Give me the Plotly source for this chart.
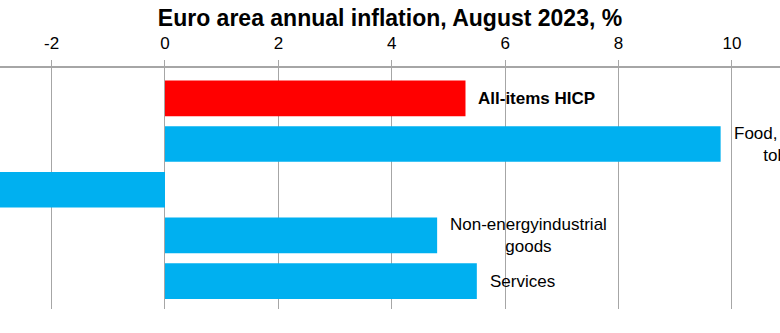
import plotly.graph_objects as go

# HICP components, annual rate of change, August 2023 (flash), %
categories = ["All-items HICP", "Food, alcohol & tobacco", "Energy",
              "Non-energy industrial goods", "Services"]
values = [5.3, 9.8, -3.2, 4.8, 5.5]
bar_colors = ["#FF0000", "#00B0F0", "#00B0F0", "#00B0F0", "#00B0F0"]
label_texts = ["<b>All-items HICP</b>", "Food, alcohol &amp;<br>tobacco", "",
               "Non-energyindustrial<br>goods", "Services"]
tick_values = [-2, 0, 2, 4, 6, 8, 10]

GRID = "#a6a6a6"
FONT = "Liberation Sans, Arial, sans-serif"

fig = go.Figure(
    go.Bar(
        x=values,
        y=categories,
        orientation="h",
        marker=dict(color=bar_colors, line=dict(width=0)),
        width=0.78,
        hoverinfo="x+y",
    )
)

annotations = []
for cat, val, txt in zip(categories, values, label_texts):
    if not txt:
        continue
    annotations.append(dict(
        x=val, y=cat, xref="x", yref="y",
        text=txt, showarrow=False,
        xanchor="left", yanchor="middle", xshift=11,
        align="center",
        font=dict(family=FONT, size=17, color="#000000"),
    ))

fig.update_layout(
    width=780, height=333,
    margin=dict(l=0, r=0, t=68, b=24, pad=0),
    paper_bgcolor="#ffffff", plot_bgcolor="#ffffff",
    showlegend=False,
    title=dict(
        text="<b>Euro area annual inflation, August 2023, %</b>",
        x=0.5, xanchor="center", y=1 - 18 / 333, yanchor="middle",
        font=dict(family=FONT, size=23, color="#000000"),
    ),
    xaxis=dict(
        side="top",
        range=[-2.91, 10.847],
        tickvals=tick_values,
        ticktext=[str(v) for v in tick_values],
        ticks="outside", ticklen=6, tickcolor=GRID, tickwidth=1,
        showline=True, linecolor=GRID, linewidth=1.5,
        showgrid=True, gridcolor=GRID, gridwidth=1.2,
        zeroline=True, zerolinecolor=GRID, zerolinewidth=1.2,
        tickfont=dict(family=FONT, size=17, color="#000000"),
        ticklabelstandoff=4,
    ),
    yaxis=dict(
        type="category",
        categoryorder="array", categoryarray=categories,
        range=[4.61, -0.664],
        showticklabels=False, showgrid=False, zeroline=False,
        showline=False, ticks="",
    ),
    annotations=annotations,
)

fig.write_html("out.html")
